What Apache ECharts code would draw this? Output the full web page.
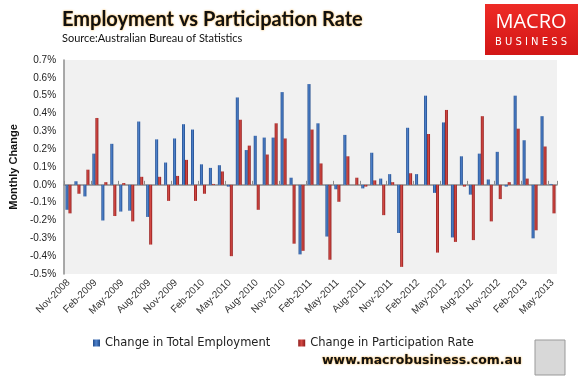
<!DOCTYPE html>
<html>
<head>
<meta charset="utf-8">
<script src="https://cdn.jsdelivr.net/npm/echarts@6/dist/echarts.min.js"></script>
<style>
  html, body { margin: 0; padding: 0; background: #fff; }
  #chart { width: 581px; height: 377px; }
</style>
</head>
<body>
<div id="chart"></div>
<script>
// months, Nov-2008 .. May-2013
var months = [
  "Nov-2008", "Dec-2008", "Jan-2009", "Feb-2009", "Mar-2009", "Apr-2009",
  "May-2009", "Jun-2009", "Jul-2009", "Aug-2009", "Sep-2009", "Oct-2009",
  "Nov-2009", "Dec-2009", "Jan-2010", "Feb-2010", "Mar-2010", "Apr-2010",
  "May-2010", "Jun-2010", "Jul-2010", "Aug-2010", "Sep-2010", "Oct-2010",
  "Nov-2010", "Dec-2010", "Jan-2011", "Feb-2011", "Mar-2011", "Apr-2011",
  "May-2011", "Jun-2011", "Jul-2011", "Aug-2011", "Sep-2011", "Oct-2011",
  "Nov-2011", "Dec-2011", "Jan-2012", "Feb-2012", "Mar-2012", "Apr-2012",
  "May-2012", "Jun-2012", "Jul-2012", "Aug-2012", "Sep-2012", "Oct-2012",
  "Nov-2012", "Dec-2012", "Jan-2013", "Feb-2013", "Mar-2013", "Apr-2013",
  "May-2013"
];

// monthly change in total employment (%)
var employment = [
  -0.14, 0.02, -0.065, 0.175, -0.20, 0.23,
  -0.15, -0.145, 0.355, -0.18, 0.255, 0.125,
  0.26, 0.34, 0.31, 0.115, 0.095, 0.11,
  -0.01, 0.49, 0.195, 0.275, 0.265, 0.265,
  0.52, 0.04, -0.39, 0.565, 0.345, -0.29,
  -0.025, 0.28, 0.0, -0.02, 0.18, 0.035,
  0.06, -0.27, 0.32, 0.06, 0.50, -0.045,
  0.35, -0.295, 0.16, -0.055, 0.175, 0.03,
  0.185, -0.01, 0.50, 0.25, -0.30, 0.385,
  0.005
];

// monthly change in participation rate (%)
var participation = [
  -0.16, -0.05, 0.085, 0.375, 0.015, -0.175,
  0.01, -0.205, 0.045, -0.335, 0.045, -0.09,
  0.05, 0.14, -0.09, -0.05, 0.005, 0.075,
  -0.40, 0.365, 0.22, -0.14, 0.17, 0.345,
  0.26, -0.33, -0.37, 0.31, 0.12, -0.42,
  -0.095, 0.16, 0.04, -0.01, 0.025, -0.17,
  0.015, -0.46, 0.065, 0.0, 0.285, -0.38,
  0.42, -0.32, -0.01, -0.31, 0.385, -0.205,
  -0.08, 0.015, 0.315, 0.035, -0.255, 0.215,
  -0.16
];

var yMin = -0.5, yMax = 0.7, yStep = 0.1;

function barFill(dark, light) {
  return new echarts.graphic.LinearGradient(0, 0, 1, 0, [
    { offset: 0, color: dark },
    { offset: 0.45, color: light },
    { offset: 1, color: dark }
  ]);
}

var myChart = echarts.init(document.getElementById("chart"));
var option = {
  animation: false,
  backgroundColor: "#fff",
  title: [
    {
      text: "Employment vs Participation Rate",
      left: 57,
      top: 5,
      textStyle: {
        fontFamily: "Lato",
        fontWeight: "bold",
        fontSize: 20,
        color: "#111",
        textShadowColor: "#f7a21b",
        textShadowBlur: 2
      }
    },
    {
      text: "Source:Australian Bureau of Statistics",
      left: 57,
      top: 28,
      textStyle: {
        fontFamily: "Lato",
        fontWeight: "normal",
        fontSize: 11,
        color: "#111"
      }
    }
  ],
  legend: {
    left: 88,
    top: 332,
    itemWidth: 7,
    itemHeight: 7,
    itemGap: 28,
    icon: "rect",
    textStyle: { fontFamily: "DejaVu Sans", fontSize: 11.5, color: "#222" },
    data: ["Change in Total Employment", "Change in Participation Rate"]
  },
  grid: {
    left: 61,
    right: 24,
    top: 60,
    bottom: 103,
    show: true,
    backgroundColor: "#f1f1f1",
    borderWidth: 0
  },
  xAxis: [
    {
      type: "category",
      data: months,
      position: "bottom",
      axisLine: { show: false, onZero: false },
      axisTick: { show: false },
      axisLabel: {
        interval: 2,
        rotate: 45,
        margin: 7,
        fontFamily: "Liberation Sans",
        fontSize: 10,
        color: "#333"
      }
    },
    {
      type: "category",
      data: months,
      position: "bottom",
      axisLine: { show: true, onZero: true, lineStyle: { color: "#8c8c8c", width: 1.5 } },
      axisTick: { show: true, inside: true, interval: 2, length: 4, lineStyle: { color: "#8c8c8c" } },
      axisLabel: { show: false }
    }
  ],
  yAxis: {
    type: "value",
    min: yMin,
    max: yMax,
    interval: yStep,
    name: "Monthly Change",
    nameLocation: "middle",
    nameGap: 43,
    nameTextStyle: { fontFamily: "Liberation Sans", fontWeight: "bold", fontSize: 11, color: "#111" },
    axisLine: { show: true, lineStyle: { color: "#8c8c8c", width: 1.5 } },
    axisTick: { show: false },
    splitLine: { show: false },
    axisLabel: {
      margin: 8,
      fontFamily: "Liberation Sans",
      fontSize: 10,
      color: "#222",
      formatter: function (v) { return v.toFixed(1) + "%"; }
    }
  },
  series: [
    {
      name: "Change in Total Employment",
      type: "bar",
      xAxisIndex: 0,
      data: employment,
      barWidth: 3,
      barGap: "0%",
      itemStyle: { color: barFill("#1f4a8a", "#4f82cc") }
    },
    {
      name: "Change in Participation Rate",
      type: "bar",
      xAxisIndex: 0,
      data: participation,
      barWidth: 3,
      barGap: "0%",
      itemStyle: { color: barFill("#8e1b1b", "#d44a45") }
    }
  ],
  graphic: [
    {
      type: "rect",
      shape: { x: 485, y: 4, width: 93, height: 51 },
      style: {
        fill: new echarts.graphic.LinearGradient(0, 0, 0, 1, [
          { offset: 0, color: "#ee2b26" },
          { offset: 1, color: "#d21616" }
        ])
      }
    },
    {
      type: "text",
      style: {
        x: 531, y: 22, text: "MACRO", align: "center", verticalAlign: "middle",
        fill: "#fff", font: "normal 20px 'Open Sans'"
      }
    },
    {
      type: "text",
      style: {
        x: 531, y: 42, text: "B U S I N E S S", align: "center", verticalAlign: "middle",
        fill: "#fff", font: "normal 10px 'DejaVu Sans'"
      }
    },
    {
      type: "text",
      style: {
        x: 422, y: 361, text: "www.macrobusiness.com.au", align: "center", verticalAlign: "middle",
        fill: "#111", font: "bold 12.5px 'DejaVu Sans'",
        textShadowColor: "#f7a21b", textShadowBlur: 2
      }
    },
    {
      type: "rect",
      shape: { x: 535, y: 340, width: 30, height: 35 },
      style: { fill: "#d8d8d8", stroke: "#999", lineWidth: 1 }
    }
  ]
};
option && myChart.setOption(option);
</script>
</body>
</html>
